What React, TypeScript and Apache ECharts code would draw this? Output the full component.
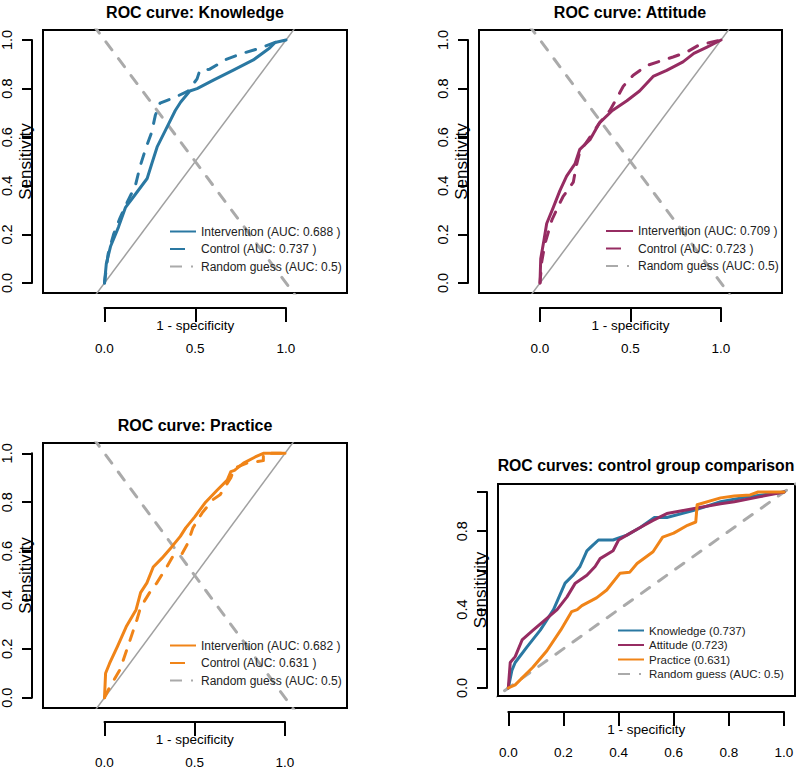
import React, { useEffect, useRef } from 'react';
import * as echarts from 'echarts';

// ---------------- data ----------------
// Knowledge (panel 1)
const knowIntX = [0, 0.01, 0.033, 0.077, 0.115, 0.16, 0.235, 0.26, 0.29, 0.33, 0.39, 0.42, 0.47, 0.51, 0.6, 0.71, 0.82, 0.91, 0.94, 1];
const knowIntY = [0, 0.08, 0.15, 0.23, 0.31, 0.355, 0.43, 0.49, 0.56, 0.62, 0.71, 0.745, 0.79, 0.8, 0.835, 0.876, 0.918, 0.967, 0.99, 1];
const knowCtlX = [0, 0.02, 0.05, 0.087, 0.13, 0.17, 0.196, 0.23, 0.26, 0.28, 0.306, 0.39, 0.46, 0.51, 0.525, 0.58, 0.67, 0.76, 0.85, 0.94, 1];
const knowCtlY = [0, 0.12, 0.2, 0.27, 0.34, 0.4, 0.48, 0.56, 0.62, 0.69, 0.74, 0.765, 0.79, 0.84, 0.875, 0.88, 0.92, 0.945, 0.965, 0.99, 1];
// Attitude (panel 2)
const attIntX = [0, 0.004, 0.022, 0.037, 0.073, 0.11, 0.147, 0.193, 0.22, 0.276, 0.33, 0.4, 0.48, 0.55, 0.625, 0.7, 0.79, 0.85, 0.92, 1];
const attIntY = [0, 0.1, 0.177, 0.245, 0.31, 0.38, 0.44, 0.49, 0.55, 0.59, 0.66, 0.71, 0.75, 0.79, 0.85, 0.875, 0.91, 0.945, 0.97, 1];
const attCtlX = [0, 0.01, 0.028, 0.066, 0.11, 0.127, 0.184, 0.2, 0.22, 0.276, 0.33, 0.386, 0.424, 0.46, 0.515, 0.59, 0.68, 0.735, 0.81, 0.88, 1];
const attCtlY = [0, 0.09, 0.163, 0.26, 0.33, 0.355, 0.415, 0.48, 0.54, 0.6, 0.66, 0.71, 0.76, 0.81, 0.855, 0.895, 0.917, 0.93, 0.95, 0.98, 1];
// Practice (panel 3)
const pracIntX = [0, 0.006, 0.028, 0.072, 0.12, 0.175, 0.2, 0.235, 0.27, 0.317, 0.37, 0.42, 0.45, 0.5, 0.56, 0.625, 0.68, 0.7, 0.72, 0.77, 0.835, 0.88, 1];
const pracIntY = [0, 0.1, 0.14, 0.21, 0.29, 0.36, 0.43, 0.47, 0.535, 0.57, 0.615, 0.66, 0.695, 0.74, 0.8, 0.85, 0.89, 0.925, 0.93, 0.96, 0.985, 1, 1];
const pracCtlX = [0, 0.03, 0.086, 0.13, 0.18, 0.2, 0.25, 0.29, 0.345, 0.38, 0.43, 0.46, 0.49, 0.54, 0.6, 0.64, 0.7, 0.72, 0.79, 0.88, 0.88, 1];
const pracCtlY = [0, 0.045, 0.115, 0.21, 0.32, 0.37, 0.43, 0.47, 0.535, 0.58, 0.59, 0.63, 0.695, 0.755, 0.81, 0.83, 0.9, 0.94, 0.96, 0.97, 1, 1];
// Control group comparison (panel 4)
const cmpKnowX = [0, 0.013, 0.025, 0.068, 0.116, 0.164, 0.206, 0.236, 0.26, 0.285, 0.3, 0.327, 0.38, 0.43, 0.48, 0.53, 0.575, 0.67, 0.77, 0.866, 1];
const cmpKnowY = [0, 0.09, 0.13, 0.21, 0.295, 0.4, 0.535, 0.577, 0.62, 0.7, 0.72, 0.755, 0.755, 0.78, 0.82, 0.87, 0.87, 0.905, 0.95, 0.975, 1];
const cmpAttX = [0, 0.007, 0.025, 0.05, 0.09, 0.14, 0.177, 0.213, 0.243, 0.285, 0.315, 0.333, 0.38, 0.4, 0.43, 0.48, 0.525, 0.575, 0.67, 0.77, 0.82, 0.91, 1];
const cmpAttY = [0, 0.13, 0.16, 0.245, 0.295, 0.355, 0.4, 0.465, 0.535, 0.575, 0.62, 0.66, 0.7, 0.755, 0.78, 0.82, 0.855, 0.89, 0.915, 0.94, 0.95, 0.975, 1];
const cmpPracX = [0, 0.025, 0.09, 0.14, 0.19, 0.23, 0.25, 0.267, 0.32, 0.357, 0.405, 0.44, 0.467, 0.525, 0.56, 0.6, 0.65, 0.68, 0.685, 0.77, 0.82, 0.877, 0.906, 1];
const cmpPracY = [0, 0.016, 0.107, 0.19, 0.295, 0.39, 0.4, 0.42, 0.46, 0.5, 0.585, 0.59, 0.635, 0.695, 0.77, 0.79, 0.83, 0.847, 0.935, 0.97, 0.98, 0.985, 1, 1];

// reference lines (chance diagonal), extended past the box and clipped by it
const diagEnds = [-0.2, 1.2];

// legend labels / titles / tick labels
const RANDOM = 'Random guess (AUC: 0.5)';
const titles = ['ROC curve: Knowledge', 'ROC curve: Attitude', 'ROC curve: Practice', 'ROC curves: control group comparison'];
const knowNames = ['Intervention (AUC: 0.688 )', 'Control (AUC: 0.737 )'];
const attNames = ['Intervention (AUC: 0.709 )', 'Control (AUC: 0.723 )'];
const pracNames = ['Intervention (AUC: 0.682 )', 'Control (AUC: 0.631 )'];
const cmpNames = ['Knowledge (0.737)', 'Attitude (0.723)', 'Practice (0.631)'];
const cmpYLabels = ['0.0', '0.4', '0.8'];

// ---------------- styles ----------------
const BLUE = '#2A78A2';
const PLUM = '#962C62';
const ORANGE = '#F08418';
const GRAY = '#AAAAAA';
const DIAG = '#A0A0A0';
const FONT = '"Liberation Sans", Arial, Helvetica, sans-serif';
const DASH = [10, 11];

const pairs = (xs: number[], ys: number[]) => xs.map((x, i) => [x, ys[i]]);

type SeriesDef = { name: string; xs: number[]; ys: number[]; color: string; dashed?: boolean };

type Panel = {
  title: string;
  titleX: number;
  titleTop: number;
  titleSize: number;
  box: { l: number; t: number; r: number; b: number };
  x0: number; x1: number; y0: number; y1: number;
  yAxisX: number; xAxisY: number;
  xInterval: number;
  yFormatter: (v: number) => string;
  legendLeft: number; legendTop: number; legendGap: number; legendIconW: number; legendFont: number;
  curves: SeriesDef[];
  compare: boolean;
};

const fmt1 = (v: number) => v.toFixed(1);
const fmtCmp = (v: number) => (cmpYLabels.includes(v.toFixed(1)) ? v.toFixed(1) : '');

const panels: Panel[] = [
  {
    title: titles[0], titleX: 195, titleTop: 4, titleSize: 16,
    box: { l: 43, t: 30, r: 347, b: 293 }, x0: 104.5, x1: 286, y0: 283, y1: 40,
    yAxisX: 32, xAxisY: 308, xInterval: 0.5, yFormatter: fmt1,
    legendLeft: 169, legendTop: 225.5, legendGap: 5.5, legendIconW: 26, legendFont: 12,
    curves: [
      { name: knowNames[0], xs: knowIntX, ys: knowIntY, color: BLUE },
      { name: knowNames[1], xs: knowCtlX, ys: knowCtlY, color: BLUE, dashed: true },
    ],
    compare: false,
  },
  {
    title: titles[1], titleX: 630, titleTop: 4, titleSize: 16,
    box: { l: 479, t: 30, r: 782, b: 293 }, x0: 540, x1: 721, y0: 283, y1: 40,
    yAxisX: 468, xAxisY: 308, xInterval: 0.5, yFormatter: fmt1,
    legendLeft: 605, legendTop: 225, legendGap: 5.5, legendIconW: 27, legendFont: 12,
    curves: [
      { name: attNames[0], xs: attIntX, ys: attIntY, color: PLUM },
      { name: attNames[1], xs: attCtlX, ys: attCtlY, color: PLUM, dashed: true },
    ],
    compare: false,
  },
  {
    title: titles[2], titleX: 195, titleTop: 417, titleSize: 16,
    box: { l: 43, t: 443, r: 347, b: 708 }, x0: 104.5, x1: 285, y0: 697.7, y1: 453.3,
    yAxisX: 32, xAxisY: 722, xInterval: 0.5, yFormatter: fmt1,
    legendLeft: 169, legendTop: 639.5, legendGap: 5.5, legendIconW: 26, legendFont: 12,
    curves: [
      { name: pracNames[0], xs: pracIntX, ys: pracIntY, color: ORANGE },
      { name: pracNames[1], xs: pracCtlX, ys: pracCtlY, color: ORANGE, dashed: true },
    ],
    compare: false,
  },
  {
    title: titles[3], titleX: 646, titleTop: 457, titleSize: 15.8,
    box: { l: 498, t: 484, r: 795, b: 696 }, x0: 508.3, x1: 784, y0: 688, y1: 492,
    yAxisX: 487, xAxisY: 712, xInterval: 0.2, yFormatter: fmtCmp,
    legendLeft: 617, legendTop: 624.5, legendGap: 2.5, legendIconW: 26, legendFont: 11.5,
    curves: [
      { name: cmpNames[0], xs: cmpKnowX, ys: cmpKnowY, color: BLUE },
      { name: cmpNames[1], xs: cmpAttX, ys: cmpAttY, color: PLUM },
      { name: cmpNames[2], xs: cmpPracX, ys: cmpPracY, color: ORANGE },
    ],
    compare: true,
  },
];

function buildOption() {
  const grid: any[] = [];
  const xAxis: any[] = [];
  const yAxis: any[] = [];
  const series: any[] = [];
  const title: any[] = [];
  const legend: any[] = [];

  panels.forEach((p) => {
    const sx = p.x1 - p.x0;
    const sy = p.y0 - p.y1;

    // plotting box
    const gData = grid.length;
    grid.push({
      left: p.box.l, top: p.box.t, width: p.box.r - p.box.l, height: p.box.b - p.box.t,
      show: true, borderColor: '#000', borderWidth: 2, backgroundColor: 'transparent',
      outerBoundsMode: 'none',
    });
    xAxis.push({ gridIndex: gData, type: 'value', min: (p.box.l - p.x0) / sx, max: (p.box.r - p.x0) / sx, show: false });
    yAxis.push({ gridIndex: gData, type: 'value', min: (p.y0 - p.box.b) / sy, max: (p.y0 - p.box.t) / sy, show: false });

    // detached y axis (R style)
    const gY = grid.length;
    grid.push({ left: p.yAxisX, top: p.y1, width: 20, height: sy, show: false, outerBoundsMode: 'none' });
    xAxis.push({ gridIndex: gY, type: 'value', min: 0, max: 1, show: false });
    yAxis.push({
      gridIndex: gY, type: 'value', min: 0, max: 1, interval: 0.2, position: 'left',
      axisLine: { show: true, onZero: false, lineStyle: { color: '#000', width: 2 } },
      axisTick: { show: true, length: 10, lineStyle: { color: '#000', width: 2 } },
      splitLine: { show: false },
      axisLabel: { rotate: 90, margin: 18, color: '#000', fontSize: 14.5, fontFamily: FONT, formatter: p.yFormatter },
      name: 'Sensitivity', nameLocation: 'middle', nameGap: -2, nameRotate: 90, nameMoveOverlap: false,
      nameTextStyle: { color: '#000', fontSize: 17, fontFamily: FONT },
    });

    // detached x axis (R style)
    const gX = grid.length;
    grid.push({ left: p.x0, top: p.xAxisY - 10, width: sx, height: 10, show: false, outerBoundsMode: 'none' });
    xAxis.push({
      gridIndex: gX, type: 'value', min: 0, max: 1, interval: p.xInterval, position: 'bottom',
      axisLine: { show: true, onZero: false, lineStyle: { color: '#000', width: 2 } },
      axisTick: { show: true, length: 14, lineStyle: { color: '#000', width: 2 } },
      splitLine: { show: false },
      axisLabel: { margin: 33.5, color: '#000', fontSize: 13.5, fontFamily: FONT, formatter: fmt1 },
      name: '1 - specificity', nameLocation: 'middle', nameGap: 10, nameMoveOverlap: false,
      nameTextStyle: { color: '#000', fontSize: 13.5, fontFamily: FONT },
    });
    yAxis.push({ gridIndex: gX, type: 'value', min: 0, max: 1, show: false });

    // reference lines
    if (!p.compare) {
      series.push({
        type: 'line', xAxisIndex: gData, yAxisIndex: gData, silent: true, symbol: 'none', clip: true,
        data: diagEnds.map((v) => [v, v]),
        lineStyle: { color: DIAG, width: 1.5 }, z: 1,
      });
      series.push({
        type: 'line', name: RANDOM, xAxisIndex: gData, yAxisIndex: gData, silent: true, symbol: 'none', clip: true,
        data: diagEnds.map((v) => [v, 1 - v]),
        color: GRAY,
        lineStyle: { color: GRAY, width: 3, type: DASH, cap: 'round' }, z: 1,
      });
    } else {
      series.push({
        type: 'line', name: RANDOM, xAxisIndex: gData, yAxisIndex: gData, silent: true, symbol: 'none', clip: true,
        data: diagEnds.map((v) => [v, v]),
        color: GRAY,
        lineStyle: { color: GRAY, width: 3, type: DASH, cap: 'round' }, z: 1,
      });
    }

    p.curves.forEach((c) => {
      series.push({
        type: 'line', name: c.name, xAxisIndex: gData, yAxisIndex: gData, silent: true, symbol: 'none', clip: true,
        data: pairs(c.xs, c.ys),
        color: c.color,
        lineStyle: { color: c.color, width: 3, type: c.dashed ? DASH : 'solid', cap: 'round', join: 'round' },
        z: 2,
      });
    });

    title.push({
      text: p.title, left: p.titleX, top: p.titleTop, textAlign: 'center', padding: 0,
      textStyle: { color: '#000', fontSize: p.titleSize, fontWeight: 'bold', fontFamily: FONT },
    });

    legend.push({
      orient: 'vertical', left: p.legendLeft, top: p.legendTop, padding: 0,
      itemWidth: p.legendIconW, itemHeight: 14, itemGap: p.legendGap, selectedMode: false,
      textStyle: { color: '#222', fontSize: p.legendFont, fontFamily: FONT },
      itemStyle: { opacity: 0 },
      data: [
        ...p.curves.map((c) => (c.dashed
          ? { name: c.name, lineStyle: { type: [15, 40], cap: 'butt' } }
          : { name: c.name, lineStyle: { type: 'solid', cap: 'butt' } })),
        { name: RANDOM, lineStyle: { type: [12, 9, 2, 30], cap: 'butt' } },
      ],
    });
  });

  return { animation: false, backgroundColor: '#fff', title, legend, grid, xAxis, yAxis, series };
}

export default function App() {
  const ref = useRef<HTMLDivElement>(null);
  useEffect(() => {
    if (!ref.current) return;
    const chart = echarts.init(ref.current, null, { renderer: 'svg' });
    chart.setOption(buildOption() as any);
    return () => chart.dispose();
  }, []);
  return <div ref={ref} style={{ position: 'absolute', left: 0, top: 0, width: 796, height: 769 }} />;
}
